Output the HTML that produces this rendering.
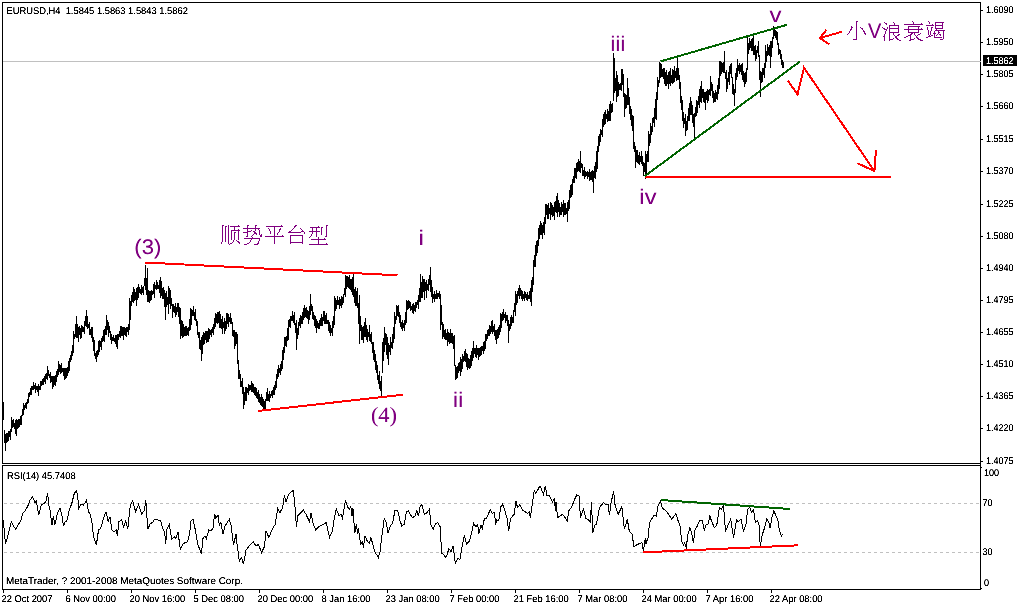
<!DOCTYPE html>
<html><head><meta charset="utf-8"><title>EURUSD,H4</title>
<style>html,body{margin:0;padding:0;background:#fff;overflow:hidden}svg{display:block}text{font-family:"Liberation Sans", sans-serif;}</style>
</head><body>
<svg width="1018" height="606" viewBox="0 0 1018 606">
<rect width="1018" height="606" fill="#fff"/>
<defs><filter id="cr" x="0" y="0" width="1018" height="606" filterUnits="userSpaceOnUse" color-interpolation-filters="sRGB"><feComponentTransfer><feFuncA type="linear" slope="2" intercept="-0.25"/></feComponentTransfer></filter><filter id="gs" x="0" y="0" width="1018" height="606" filterUnits="userSpaceOnUse" color-interpolation-filters="sRGB"><feComponentTransfer><feFuncA type="linear" slope="1.15" intercept="0"/></feComponentTransfer></filter></defs>
<g shape-rendering="crispEdges" fill="none">
<path d="M3 503.5H980M3 552.5H980" stroke="#c0c0c0" stroke-width="1" stroke-dasharray="3 3" stroke-dashoffset="-1"/>
<path d="M2 2.5H981M2.5 2V464M2 463.5H981M2 465.5H981M2.5 465V590M2 589.5H981M980.5 2V590M981 10.5H983M981 42.5H983M981 74.5H983M981 106.5H983M981 139.5H983M981 171.5H983M981 204.5H983M981 236.5H983M981 268.5H983M981 300.5H983M981 332.5H983M981 364.5H983M981 396.5H983M981 428.5H983M981 461.5H983M981 467.5H982M981 588.5H982M3.5 590V593M67.5 590V593M131.5 590V593M195.5 590V593M259.5 590V593M323.5 590V593M387.5 590V593M451.5 590V593M515.5 590V593M579.5 590V593M643.5 590V593M707.5 590V593M771.5 590V593" stroke="#000" stroke-width="1"/>
<path d="M3 61.5H981" stroke="#c0c0c0" stroke-width="1"/>
<path d="M3.5 402V420M4.5 430V443M5.5 434V451M6.5 433V443M7.5 433V442M8.5 431V441M9.5 431V437M10.5 429V440M11.5 417V432M12.5 420V428M13.5 419V427M14.5 423V429M15.5 420V434M16.5 419V436M17.5 420V429M18.5 419V428M19.5 419V427M20.5 416V425M21.5 415V425M22.5 409V416M23.5 403V415M24.5 405V410M25.5 403V408M26.5 402V409M27.5 399V404M28.5 393V403M29.5 392V397M30.5 388V395M31.5 386V395M32.5 386V390M33.5 382V390M34.5 385V389M35.5 383V393M36.5 386V390M37.5 386V392M38.5 384V396M39.5 386V390M40.5 381V390M41.5 381V386M42.5 379V385M43.5 378V385M44.5 376V382M45.5 374V384M46.5 373V379M47.5 366V380M48.5 370V376M49.5 374V378M50.5 372V383M51.5 376V382M52.5 376V389M53.5 376V387M54.5 376V385M55.5 375V386M56.5 371V382M57.5 369V377M58.5 361V375M59.5 364V372M60.5 365V374M61.5 363V373M62.5 368V372M63.5 368V376M64.5 368V380M65.5 368V379M66.5 368V378M67.5 367V376M68.5 361V373M69.5 358V371M70.5 355V362M71.5 351V360M72.5 345V356M73.5 331V353M74.5 334V339M75.5 324V337M76.5 316V338M77.5 324V338M78.5 327V342M79.5 326V335M80.5 328V339M81.5 325V338M82.5 326V332M83.5 327V332M84.5 321V334M85.5 316V326M86.5 310V327M87.5 316V329M88.5 324V328M89.5 322V335M90.5 329V335M91.5 327V338M92.5 327V342M93.5 337V351M94.5 340V356M95.5 353V359M96.5 351V362M97.5 350V357M98.5 341V355M99.5 340V352M100.5 341V347M101.5 338V350M102.5 336V342M103.5 330V341M104.5 329V342M105.5 326V335M106.5 315V335M107.5 320V330M108.5 322V337M109.5 326V333M110.5 331V340M111.5 334V344M112.5 337V341M113.5 335V341M114.5 338V342M115.5 335V344M116.5 335V347M117.5 334V349M118.5 334V340M119.5 331V337M120.5 326V338M121.5 326V336M122.5 327V336M123.5 327V340M124.5 327V335M125.5 328V336M126.5 327V337M127.5 327V332M128.5 324V335M129.5 298V330M130.5 301V320M131.5 295V306M132.5 292V302M133.5 287V303M134.5 289V301M135.5 292V300M136.5 288V306M137.5 287V300M138.5 284V298M139.5 287V293M140.5 289V294M141.5 285V295M142.5 287V293M143.5 286V295M144.5 278V286M145.5 265V290M146.5 278V295M147.5 268V302M148.5 290V302M149.5 291V303M150.5 291V301M151.5 290V300M152.5 291V295M153.5 284V294M154.5 282V298M155.5 285V289M156.5 280V290M157.5 282V289M158.5 285V289M159.5 280V293M160.5 277V298M161.5 281V296M162.5 288V299M163.5 287V299M164.5 290V307M165.5 293V320M166.5 291V307M167.5 297V305M168.5 286V314M169.5 288V304M170.5 290V309M171.5 298V306M172.5 304V318M173.5 304V312M174.5 306V313M175.5 303V317M176.5 307V315M177.5 303V312M178.5 303V317M179.5 307V324M180.5 308V339M181.5 320V336M182.5 321V338M183.5 324V337M184.5 327V336M185.5 326V336M186.5 326V336M187.5 328V335M188.5 327V336M189.5 319V331M190.5 308V330M191.5 309V325M192.5 310V316M193.5 306V316M194.5 312V320M195.5 309V321M196.5 319V326M197.5 321V335M198.5 332V338M199.5 332V349M200.5 340V350M201.5 337V361M202.5 335V354M203.5 332V345M204.5 333V344M205.5 331V340M206.5 331V343M207.5 331V342M208.5 328V342M209.5 329V339M210.5 330V335M211.5 329V337M212.5 327V333M213.5 324V335M214.5 318V329M215.5 313V327M216.5 314V323M217.5 312V324M218.5 312V323M219.5 311V328M220.5 314V328M221.5 319V329M222.5 316V334M223.5 322V328M224.5 318V334M225.5 321V331M226.5 313V329M227.5 313V324M228.5 314V327M229.5 317V322M230.5 313V324M231.5 318V324M232.5 322V336M233.5 330V337M234.5 330V349M235.5 332V346M236.5 332V344M237.5 334V364M238.5 360V379M239.5 370V379M240.5 374V387M241.5 381V387M242.5 378V394M243.5 387V409M244.5 392V405M245.5 387V401M246.5 387V401M247.5 388V393M248.5 384V395M249.5 385V391M250.5 385V390M251.5 381V392M252.5 383V392M253.5 384V393M254.5 387V395M255.5 387V396M256.5 388V398M257.5 392V399M258.5 390V402M259.5 394V403M260.5 397V405M261.5 394V406M262.5 397V407M263.5 399V410M264.5 401V409M265.5 399V409M266.5 392V401M267.5 388V401M268.5 394V401M269.5 391V402M270.5 394V398M271.5 391V396M272.5 390V398M273.5 387V395M274.5 385V395M275.5 381V390M276.5 374V388M277.5 369V379M278.5 365V377M279.5 368V373M280.5 364V375M281.5 361V371M282.5 350V369M283.5 347V360M284.5 337V353M285.5 337V346M286.5 336V347M287.5 328V341M288.5 320V340M289.5 319V327M290.5 316V328M291.5 316V321M292.5 311V321M293.5 315V323M294.5 312V325M295.5 323V333M296.5 320V350M297.5 328V339M298.5 322V335M299.5 318V326M300.5 315V328M301.5 316V324M302.5 312V324M303.5 308V320M304.5 305V318M305.5 308V317M306.5 307V318M307.5 310V319M308.5 311V324M309.5 306V320M310.5 294V315M311.5 304V311M312.5 306V319M313.5 312V320M314.5 315V326M315.5 316V328M316.5 319V333M317.5 321V328M318.5 323V329M319.5 320V329M320.5 318V326M321.5 314V326M322.5 317V326M323.5 311V321M324.5 311V324M325.5 315V324M326.5 313V324M327.5 320V324M328.5 320V331M329.5 322V333M330.5 325V336M331.5 328V333M332.5 321V336M333.5 316V328M334.5 296V325M335.5 298V311M336.5 300V309M337.5 296V305M338.5 300V305M339.5 297V309M340.5 299V306M341.5 296V308M342.5 297V305M343.5 294V303M344.5 288V295M345.5 275V297M346.5 276V289M347.5 276V287M348.5 277V288M349.5 275V289M350.5 279V290M351.5 279V292M352.5 277V295M353.5 274V297M354.5 289V303M355.5 287V306M356.5 291V306M357.5 288V308M358.5 303V324M359.5 295V344M360.5 316V331M361.5 325V340M362.5 327V340M363.5 326V343M364.5 322V337M365.5 318V337M366.5 325V340M367.5 329V342M368.5 332V337M369.5 325V341M370.5 334V342M371.5 332V344M372.5 342V353M373.5 342V360M374.5 350V362M375.5 354V370M376.5 361V373M377.5 365V380M378.5 375V384M379.5 371V389M380.5 381V391M381.5 376V397M382.5 342V373M383.5 338V361M384.5 327V352M385.5 333V345M386.5 334V355M387.5 337V359M388.5 343V365M389.5 345V352M390.5 337V355M391.5 342V348M392.5 334V349M393.5 327V343M394.5 312V339M395.5 316V324M396.5 305V320M397.5 306V316M398.5 305V317M399.5 312V323M400.5 315V327M401.5 322V329M402.5 320V331M403.5 323V328M404.5 320V331M405.5 312V325M406.5 300V323M407.5 301V310M408.5 300V309M409.5 301V308M410.5 302V311M411.5 306V310M412.5 304V313M413.5 303V314M414.5 305V311M415.5 302V312M416.5 302V308M417.5 300V305M418.5 295V309M419.5 288V302M420.5 274V302M421.5 282V298M422.5 276V298M423.5 279V292M424.5 279V300M425.5 282V291M426.5 280V298M427.5 284V290M428.5 279V291M429.5 275V285M430.5 267V292M431.5 280V297M432.5 287V303M433.5 294V299M434.5 291V302M435.5 294V299M436.5 290V299M437.5 293V299M438.5 293V297M439.5 291V299M440.5 294V330M441.5 305V325M442.5 322V339M443.5 324V337M444.5 330V339M445.5 329V340M446.5 333V340M447.5 329V346M448.5 332V342M449.5 333V344M450.5 329V343M451.5 333V343M452.5 333V344M453.5 336V349M454.5 335V366M455.5 365V380M456.5 367V379M457.5 366V378M458.5 363V373M459.5 362V371M460.5 357V376M461.5 359V372M462.5 354V369M463.5 356V362M464.5 351V361M465.5 349V362M466.5 353V367M467.5 354V370M468.5 358V368M469.5 359V369M470.5 355V368M471.5 351V366M472.5 348V361M473.5 341V358M474.5 348V354M475.5 348V357M476.5 345V358M477.5 348V355M478.5 348V360M479.5 348V357M480.5 347V356M481.5 346V355M482.5 346V351M483.5 342V354M484.5 341V351M485.5 334V349M486.5 334V341M487.5 330V339M488.5 329V336M489.5 325V336M490.5 326V334M491.5 321V332M492.5 320V334M493.5 326V332M494.5 324V336M495.5 330V340M496.5 330V344M497.5 329V339M498.5 327V338M499.5 325V335M500.5 313V332M501.5 314V328M502.5 312V321M503.5 309V320M504.5 314V318M505.5 312V323M506.5 315V321M507.5 315V326M508.5 320V343M509.5 324V331M510.5 317V329M511.5 315V326M512.5 317V323M513.5 310V323M514.5 303V312M515.5 291V316M516.5 294V305M517.5 291V303M518.5 288V296M519.5 285V299M520.5 288V296M521.5 290V299M522.5 291V301M523.5 294V299M524.5 291V301M525.5 292V298M526.5 294V300M527.5 292V301M528.5 295V299M529.5 291V299M530.5 288V302M531.5 280V306M532.5 277V292M533.5 260V285M534.5 255V267M535.5 245V267M536.5 241V256M537.5 240V253M538.5 228V246M539.5 225V239M540.5 221V235M541.5 223V235M542.5 225V239M543.5 222V233M544.5 217V235M545.5 204V224M546.5 204V215M547.5 205V219M548.5 203V219M549.5 208V214M550.5 202V220M551.5 203V215M552.5 205V217M553.5 207V216M554.5 202V220M555.5 201V212M556.5 196V213M557.5 193V217M558.5 200V212M559.5 203V217M560.5 207V215M561.5 202V215M562.5 204V212M563.5 200V217M564.5 203V215M565.5 203V215M566.5 208V214M567.5 202V222M568.5 200V211M569.5 190V209M570.5 185V198M571.5 184V197M572.5 179V195M573.5 176V183M574.5 168V183M575.5 168V178M576.5 163V179M577.5 162V172M578.5 159V171M579.5 161V172M580.5 151V173M581.5 163V168M582.5 164V176M583.5 170V176M584.5 167V179M585.5 171V177M586.5 172V176M587.5 171V179M588.5 172V177M589.5 169V181M590.5 172V180M591.5 171V180M592.5 170V182M593.5 171V193M594.5 166V178M595.5 162V179M596.5 151V172M597.5 146V169M598.5 136V152M599.5 134V146M600.5 129V142M601.5 130V135M602.5 119V137M603.5 114V127M604.5 112V125M605.5 110V124M606.5 114V119M607.5 109V122M608.5 111V121M609.5 104V121M610.5 101V121M611.5 104V113M612.5 103V112M613.5 53V101M614.5 58V93M615.5 78V91M616.5 71V102M617.5 75V97M618.5 82V96M619.5 84V90M620.5 83V90M621.5 69V91M622.5 69V85M623.5 74V97M624.5 93V117M625.5 94V109M626.5 95V108M627.5 78V105M628.5 88V105M629.5 97V114M630.5 106V120M631.5 109V126M632.5 115V131M633.5 116V149M634.5 142V152M635.5 146V168M636.5 150V162M637.5 150V163M638.5 155V164M639.5 152V165M640.5 156V162M641.5 151V164M642.5 156V166M643.5 162V176M644.5 163V172M645.5 151V179M646.5 154V174M647.5 151V162M648.5 131V162M649.5 134V146M650.5 123V143M651.5 126V135M652.5 118V132M653.5 117V123M654.5 108V127M655.5 99V119M656.5 92V120M657.5 77V100M658.5 80V87M659.5 62V83M660.5 63V78M661.5 64V77M662.5 69V77M663.5 68V79M664.5 68V84M665.5 72V86M666.5 70V86M667.5 75V84M668.5 72V89M669.5 71V84M670.5 68V86M671.5 75V83M672.5 69V84M673.5 70V83M674.5 66V82M675.5 71V78M676.5 68V81M677.5 55V80M678.5 68V80M679.5 75V89M680.5 82V103M681.5 96V110M682.5 100V121M683.5 112V128M684.5 118V124M685.5 114V136M686.5 121V131M687.5 116V130M688.5 108V121M689.5 103V121M690.5 97V115M691.5 101V115M692.5 105V123M693.5 114V127M694.5 113V140M695.5 107V117M696.5 100V116M697.5 101V113M698.5 96V105M699.5 89V108M700.5 86V102M701.5 81V103M702.5 89V98M703.5 89V102M704.5 92V103M705.5 92V110M706.5 91V100M707.5 89V103M708.5 90V101M709.5 89V95M710.5 76V96M711.5 82V91M712.5 84V98M713.5 91V103M714.5 93V102M715.5 90V102M716.5 92V99M717.5 85V100M718.5 78V94M719.5 61V89M720.5 61V76M721.5 62V74M722.5 63V72M723.5 62V73M724.5 51V73M725.5 72V79M726.5 70V92M727.5 78V89M728.5 72V82M729.5 66V85M730.5 64V74M731.5 63V78M732.5 77V94M733.5 84V95M734.5 89V106M735.5 73V93M736.5 68V80M737.5 59V77M738.5 65V71M739.5 63V74M740.5 65V72M741.5 64V75M742.5 63V80M743.5 71V82M744.5 73V87M745.5 72V84M746.5 68V82M747.5 37V70M748.5 43V54M749.5 38V50M750.5 41V48M751.5 39V51M752.5 38V51M753.5 35V55M754.5 46V55M755.5 45V61M756.5 50V59M757.5 46V53M758.5 41V57M759.5 55V80M760.5 71V97M761.5 72V83M762.5 68V82M763.5 68V75M764.5 63V78M765.5 45V68M766.5 51V62M767.5 44V56M768.5 47V55M769.5 45V56M770.5 41V68M771.5 41V57M772.5 37V48M773.5 26V39M774.5 28V36M775.5 30V38M776.5 31V40M777.5 32V45M778.5 43V55M779.5 49V54M780.5 50V59M781.5 54V65M782.5 60V68M783.5 62V68" stroke="#000" stroke-width="1"/>
<path d="M3.3 520.0 L5.5 544.3 L8.4 533.4 L11.4 521.8 L13.4 525.9 L15.9 529.3 L18.4 524.3 L20.9 520.9 L22.5 513.4 L25.0 510.9 L27.6 506.7 L30.0 500.0 L32.6 496.7 L35.0 502.5 L36.4 500.9 L38.7 515.0 L41.4 505.0 L44.3 503.4 L45.9 501.7 L47.6 493.4 L48.8 505.0 L50.0 510.0 L52.0 525.0 L53.4 515.9 L54.8 525.0 L57.6 512.6 L60.0 508.4 L61.8 514.2 L63.5 525.9 L65.0 521.8 L66.8 520.9 L69.3 510.0 L71.8 503.4 L74.3 493.4 L76.5 490.4 L77.7 496.7 L78.8 508.4 L81.0 504.2 L83.5 505.0 L86.5 500.4 L88.5 511.7 L90.2 514.2 L91.9 521.8 L93.5 536.8 L96.4 545.0 L98.5 530.0 L100.7 528.4 L103.5 518.4 L106.0 511.7 L108.2 521.8 L109.9 516.7 L111.9 530.0 L114.4 531.8 L116.4 530.0 L117.4 535.9 L118.9 521.8 L121.6 519.2 L123.6 526.8 L125.6 520.9 L127.8 529.3 L130.3 505.0 L132.8 500.9 L135.6 511.7 L138.6 504.2 L141.6 514.2 L144.5 510.0 L145.8 499.7 L147.8 529.3 L150.3 523.4 L152.8 522.6 L154.5 519.2 L157.8 520.0 L160.3 520.0 L162.8 528.4 L164.5 531.8 L165.8 543.5 L166.7 530.0 L169.2 524.3 L171.7 539.3 L174.2 536.8 L175.9 538.5 L178.0 531.8 L180.4 550.0 L182.5 544.3 L185.0 542.6 L187.5 541.8 L189.7 533.4 L190.9 520.9 L193.0 519.2 L195.0 528.4 L197.6 543.5 L201.4 554.3 L203.0 538.5 L205.0 535.9 L206.4 538.5 L208.8 530.0 L210.9 531.0 L213.0 528.4 L214.6 514.2 L215.9 518.4 L218.0 515.0 L219.3 525.0 L220.9 522.6 L223.0 534.3 L225.0 525.9 L226.8 523.4 L229.3 519.2 L231.0 525.0 L233.5 545.0 L236.0 534.3 L237.0 543.5 L239.3 561.0 L241.5 557.7 L243.5 564.3 L246.0 550.0 L248.5 546.8 L250.5 544.3 L253.2 541.8 L256.0 546.0 L258.5 544.3 L261.5 552.6 L264.4 546.8 L266.0 531.0 L268.9 537.6 L271.9 530.0 L275.2 524.3 L277.7 508.4 L279.9 512.6 L282.7 507.6 L284.4 495.0 L286.0 501.7 L288.6 494.2 L293.3 490.4 L294.9 505.0 L296.4 526.8 L297.8 515.9 L300.3 513.4 L303.3 510.0 L306.0 514.2 L309.5 521.8 L311.0 512.6 L312.8 522.6 L315.8 530.0 L318.6 526.8 L322.0 525.0 L326.2 522.6 L329.5 537.6 L332.0 531.8 L332.5 531.0 L334.2 518.4 L336.3 509.2 L339.2 515.9 L340.9 514.2 L342.5 518.4 L345.4 500.4 L347.5 506.7 L349.2 509.2 L350.9 506.7 L352.0 515.9 L353.0 508.4 L354.7 533.4 L356.4 524.3 L357.6 534.3 L358.4 528.4 L360.6 544.3 L362.6 541.8 L363.4 547.6 L365.0 536.0 L367.6 541.8 L369.2 543.5 L370.9 537.6 L373.0 545.0 L375.4 553.5 L376.8 554.3 L378.4 557.7 L380.0 551.8 L382.0 535.0 L384.3 518.4 L386.4 522.6 L388.0 533.4 L390.5 525.9 L392.6 523.4 L395.0 510.0 L397.6 510.0 L399.8 520.0 L401.8 525.9 L404.3 524.3 L406.5 511.7 L408.5 510.9 L410.0 514.2 L412.7 517.6 L415.0 515.9 L416.8 510.9 L418.5 515.9 L420.0 506.7 L421.9 504.2 L424.4 514.2 L427.2 512.6 L429.4 509.2 L431.0 525.0 L433.2 529.3 L435.2 524.3 L437.7 522.6 L440.2 526.8 L441.6 553.5 L443.6 554.3 L445.2 557.7 L446.9 555.2 L448.9 548.5 L451.0 551.8 L453.2 546.0 L455.3 563.5 L457.8 558.5 L460.0 559.3 L462.0 546.8 L464.4 535.0 L466.6 544.3 L469.4 541.0 L471.6 532.6 L473.6 523.4 L476.0 526.8 L477.8 524.3 L478.6 534.3 L481.0 525.0 L482.3 528.4 L484.5 518.4 L486.0 519.2 L490.3 509.7 L492.3 513.4 L494.5 512.6 L495.7 525.0 L496.7 520.0 L498.7 520.9 L500.8 506.7 L502.5 504.2 L505.0 510.9 L507.0 518.4 L508.7 531.0 L510.4 519.2 L512.5 515.9 L514.2 514.2 L515.9 500.9 L517.5 507.6 L519.7 505.0 L522.6 510.0 L525.0 511.7 L527.6 513.4 L529.2 511.7 L530.4 517.6 L532.6 501.7 L534.2 490.9 L535.9 493.4 L540.0 485.8 L543.4 494.2 L545.4 485.8 L547.0 495.9 L549.3 495.9 L552.6 501.7 L554.3 499.2 L555.5 510.9 L556.0 501.7 L557.6 517.6 L560.0 515.9 L562.6 514.2 L565.0 517.6 L567.3 520.9 L568.8 510.9 L571.8 506.7 L574.3 500.0 L576.8 495.0 L579.0 495.9 L580.5 517.6 L583.5 509.2 L586.0 518.4 L588.5 520.0 L590.2 521.8 L591.5 502.5 L592.7 532.6 L594.9 525.0 L596.5 524.3 L599.4 507.6 L603.5 502.5 L606.0 505.0 L608.2 504.2 L609.4 515.0 L611.0 503.4 L613.6 490.9 L614.9 504.2 L618.2 514.2 L621.9 506.7 L624.4 529.3 L627.3 519.2 L629.4 531.8 L631.9 533.4 L634.0 546.8 L636.6 545.0 L639.5 543.5 L642.0 542.6 L643.3 551.0 L645.3 538.5 L646.0 543.5 L648.3 536.8 L649.5 522.6 L652.0 518.4 L654.2 515.0 L656.3 515.9 L658.0 505.9 L660.4 500.9 L662.5 508.4 L665.0 510.0 L667.5 512.6 L669.7 515.9 L671.7 519.2 L674.2 515.9 L675.9 513.4 L678.4 521.8 L680.0 525.9 L681.7 541.8 L683.4 545.0 L684.7 542.6 L686.4 548.5 L687.6 535.0 L690.0 527.6 L691.7 533.4 L693.4 542.6 L695.0 530.0 L697.3 525.9 L699.8 520.0 L702.0 520.0 L704.3 530.0 L706.0 525.0 L708.0 524.3 L709.8 515.9 L711.8 521.8 L714.3 527.6 L716.8 525.0 L719.3 507.6 L721.5 509.2 L723.5 505.0 L725.5 531.8 L727.7 525.9 L730.7 519.2 L733.5 537.6 L736.5 520.0 L738.5 521.8 L741.0 519.2 L743.5 531.0 L746.0 524.3 L747.7 509.2 L749.9 507.6 L751.5 512.6 L753.5 510.0 L755.5 522.6 L757.7 520.9 L759.4 525.9 L760.2 546.8 L762.2 535.0 L764.4 528.4 L766.9 518.4 L768.9 522.6 L770.2 528.4 L771.9 517.6 L773.9 510.9 L776.0 515.9 L777.8 519.2 L779.4 531.0 L781.6 536.0 L782.4 534.3" stroke="#000" stroke-width="1" stroke-linejoin="miter"/>
<g stroke-width="2" stroke-linecap="butt">
<path d="M145 262.5L397.5 275.3M258 411L403 394.7M644.5 176.6H891" stroke="#ff0000"/>
<path d="M643 552.4L798 545.3" stroke="#ff0000"/>
<path d="M660.5 61.4L787 24.8M644.7 176.2L800.2 61.3" stroke="#006400"/>
<path d="M660.8 500L790 509" stroke="#006400"/>
<path d="M787.8 80.5L797.5 94.5L804 67.7L874.4 171.1M857.3 163.2L874.4 171.1L876 149.7" stroke="#ff0000" stroke-linejoin="miter"/>
<path d="M841.7 31.8L820 38M826.5 29.6L820 38L829.2 44.2" stroke="#ff0000"/>
</g>
<rect x="983" y="55" width="34" height="11" fill="#000"/>
</g>
<g filter="url(#cr)" text-rendering="geometricPrecision">
<text transform="translate(6.4 14) scale(0.955 1)" font-size="9.8" fill="#000" xml:space="preserve">EURUSD,H4&#160; 1.5845 1.5863 1.5843 1.5862</text>
<text transform="translate(7 479) scale(0.955 1)" font-size="9.8" fill="#000">RSI(14) 45.7408</text>
<text transform="translate(6 584) scale(1.011 1)" font-size="9.8" fill="#000">MetaTrader, ? 2001-2008 MetaQuotes Software Corp.</text>
<text transform="translate(986 13) scale(0.92 1)" font-size="9.8" fill="#000">1.6090</text>
<text transform="translate(986 45) scale(0.92 1)" font-size="9.8" fill="#000">1.5950</text>
<text transform="translate(986 77) scale(0.92 1)" font-size="9.8" fill="#000">1.5805</text>
<text transform="translate(986 109) scale(0.92 1)" font-size="9.8" fill="#000">1.5660</text>
<text transform="translate(986 142) scale(0.92 1)" font-size="9.8" fill="#000">1.5515</text>
<text transform="translate(986 174) scale(0.92 1)" font-size="9.8" fill="#000">1.5370</text>
<text transform="translate(986 207) scale(0.92 1)" font-size="9.8" fill="#000">1.5225</text>
<text transform="translate(986 239) scale(0.92 1)" font-size="9.8" fill="#000">1.5080</text>
<text transform="translate(986 271) scale(0.92 1)" font-size="9.8" fill="#000">1.4940</text>
<text transform="translate(986 303) scale(0.92 1)" font-size="9.8" fill="#000">1.4795</text>
<text transform="translate(986 335) scale(0.92 1)" font-size="9.8" fill="#000">1.4655</text>
<text transform="translate(986 367) scale(0.92 1)" font-size="9.8" fill="#000">1.4510</text>
<text transform="translate(986 399) scale(0.92 1)" font-size="9.8" fill="#000">1.4365</text>
<text transform="translate(986 431) scale(0.92 1)" font-size="9.8" fill="#000">1.4220</text>
<text transform="translate(986 464) scale(0.92 1)" font-size="9.8" fill="#000">1.4075</text>
<text transform="translate(986 64) scale(0.92 1)" font-size="9.8" fill="#fff">1.5862</text>
<text transform="translate(984 476) scale(0.92 1)" font-size="9.8" fill="#000">100</text>
<text transform="translate(982.5 506) scale(0.92 1)" font-size="9.8" fill="#000">70</text>
<text transform="translate(982.5 555) scale(0.92 1)" font-size="9.8" fill="#000">30</text>
<text transform="translate(984 586) scale(0.92 1)" font-size="9.8" fill="#000">0</text>
<text transform="translate(1.5 602) scale(0.955 1)" font-size="9.8" fill="#000">22 Oct 2007</text>
<text transform="translate(65.5 602) scale(0.955 1)" font-size="9.8" fill="#000">6 Nov 00:00</text>
<text transform="translate(129.5 602) scale(0.955 1)" font-size="9.8" fill="#000">20 Nov 16:00</text>
<text transform="translate(193.5 602) scale(0.955 1)" font-size="9.8" fill="#000">5 Dec 08:00</text>
<text transform="translate(257.5 602) scale(0.955 1)" font-size="9.8" fill="#000">20 Dec 00:00</text>
<text transform="translate(321.5 602) scale(0.955 1)" font-size="9.8" fill="#000">8 Jan 16:00</text>
<text transform="translate(385.5 602) scale(0.955 1)" font-size="9.8" fill="#000">23 Jan 08:00</text>
<text transform="translate(449.5 602) scale(0.955 1)" font-size="9.8" fill="#000">7 Feb 00:00</text>
<text transform="translate(513.5 602) scale(0.955 1)" font-size="9.8" fill="#000">21 Feb 16:00</text>
<text transform="translate(577.5 602) scale(0.955 1)" font-size="9.8" fill="#000">7 Mar 08:00</text>
<text transform="translate(641.5 602) scale(0.955 1)" font-size="9.8" fill="#000">24 Mar 00:00</text>
<text transform="translate(705.5 602) scale(0.955 1)" font-size="9.8" fill="#000">7 Apr 16:00</text>
<text transform="translate(769.5 602) scale(0.955 1)" font-size="9.8" fill="#000">22 Apr 08:00</text>
</g>
<g filter="url(#gs)" text-rendering="geometricPrecision">
<text transform="translate(134.3 254) scale(1.04 1)" font-size="21.2" fill="#800080">(3)</text>
<text transform="translate(418.6 245) scale(1.15 1)" font-size="21.2" fill="#800080">i</text>
<text transform="translate(453.1 407) scale(1.05 1)" font-size="21.2" fill="#800080" letter-spacing="0.25">ii</text>
<text x="610.4" y="51" font-size="21.2" fill="#800080" letter-spacing="0.3">iii</text>
<text transform="translate(639.2 204.2) scale(1.11 1)" font-size="21.2" fill="#800080" letter-spacing="0.3">iv</text>
<text transform="translate(769.5 22.1) scale(1.13 1)" font-size="21.2" fill="#800080">v</text>
<text transform="translate(370.9 421.5) scale(1.035 1)" font-size="21.7" fill="#800080" style='font-family:"Liberation Serif", serif'>(4)</text>
<text transform="translate(867.9 38) scale(0.94 1)" font-size="21.2" fill="#800080">V</text>
</g>
<g stroke="#800080" stroke-width="1" fill="none" shape-rendering="crispEdges">
<g role="img" aria-label="顺势平台型"><title>顺势平台型</title><path d="M222 225.5h2M228 225.5h1M238 225.5h1M222 226.5h1M225 226.5h2M228 226.5h1M230 226.5h10M222 227.5h1M225 227.5h1M228 227.5h1M234 227.5h1M222 228.5h1M225 228.5h1M228 228.5h1M234 228.5h1M222 229.5h1M225 229.5h1M228 229.5h1M234 229.5h1M238 229.5h1M222 230.5h1M225 230.5h1M228 230.5h1M231 230.5h9M222 231.5h1M225 231.5h1M228 231.5h1M231 231.5h1M238 231.5h1M222 232.5h1M225 232.5h1M228 232.5h1M231 232.5h1M234 232.5h2M238 232.5h1M222 233.5h1M225 233.5h1M228 233.5h1M231 233.5h1M234 233.5h1M238 233.5h1M222 234.5h1M225 234.5h1M228 234.5h1M231 234.5h1M234 234.5h1M238 234.5h1M222 235.5h1M225 235.5h1M228 235.5h1M231 235.5h1M234 235.5h1M238 235.5h1M222 236.5h1M225 236.5h1M228 236.5h1M231 236.5h1M234 236.5h1M238 236.5h1M222 237.5h1M225 237.5h1M228 237.5h1M231 237.5h1M234 237.5h1M238 237.5h1M222 238.5h1M225 238.5h1M228 238.5h1M231 238.5h1M234 238.5h1M238 238.5h1M222 239.5h1M225 239.5h1M228 239.5h1M231 239.5h1M234 239.5h1M238 239.5h1M222 240.5h1M225 240.5h1M228 240.5h1M233 240.5h1M236 240.5h1M222 241.5h1M225 241.5h1M228 241.5h1M233 241.5h1M237 241.5h2M221 242.5h1M228 242.5h1M232 242.5h1M238 242.5h2M221 243.5h1M228 243.5h1M230 243.5h2M239 243.5h1M229 244.5h1M247 225.5h2M255 225.5h2M247 226.5h1M255 226.5h1M247 227.5h1M255 227.5h1M243 228.5h17M247 229.5h1M255 229.5h1M258 229.5h1M247 230.5h1M251 230.5h1M255 230.5h1M259 230.5h1M247 231.5h4M253 231.5h2M259 231.5h1M243 232.5h5M254 232.5h2M259 232.5h1M247 233.5h1M254 233.5h3M259 233.5h1M247 234.5h1M253 234.5h1M256 234.5h1M259 234.5h1M261 234.5h1M247 235.5h1M252 235.5h1M260 235.5h2M246 236.5h2M251 236.5h1M260 236.5h2M252 237.5h1M244 238.5h16M251 239.5h1M259 239.5h1M250 240.5h1M259 240.5h1M250 241.5h1M258 241.5h1M249 242.5h1M258 242.5h1M247 243.5h2M257 243.5h2M244 244.5h3M254 244.5h4M281 225.5h1M266 226.5h17M274 227.5h1M268 228.5h1M274 228.5h1M280 228.5h1M269 229.5h1M274 229.5h1M279 229.5h2M269 230.5h1M274 230.5h1M279 230.5h1M270 231.5h1M274 231.5h1M279 231.5h1M270 232.5h1M274 232.5h1M278 232.5h1M270 233.5h1M274 233.5h1M277 233.5h1M274 234.5h1M277 234.5h1M274 235.5h1M282 235.5h1M265 236.5h19M274 237.5h1M274 238.5h1M274 239.5h1M274 240.5h1M274 241.5h1M274 242.5h1M274 243.5h1M295 225.5h2M294 226.5h2M294 227.5h1M293 228.5h1M300 228.5h1M292 229.5h1M301 229.5h1M291 230.5h1M302 230.5h1M289 231.5h2M301 231.5h3M288 232.5h13M304 232.5h1M304 233.5h1M290 235.5h13M290 236.5h1M302 236.5h1M290 237.5h1M302 237.5h1M290 238.5h1M302 238.5h1M290 239.5h1M302 239.5h1M290 240.5h1M302 240.5h1M290 241.5h1M302 241.5h1M290 242.5h13M290 243.5h1M302 243.5h1M326 225.5h2M318 226.5h1M326 226.5h1M310 227.5h10M321 227.5h2M326 227.5h1M312 228.5h1M316 228.5h1M321 228.5h1M326 228.5h1M312 229.5h1M316 229.5h1M321 229.5h1M326 229.5h1M312 230.5h1M316 230.5h1M321 230.5h1M326 230.5h1M309 231.5h11M321 231.5h1M326 231.5h1M312 232.5h1M316 232.5h1M321 232.5h1M326 232.5h1M312 233.5h1M316 233.5h1M321 233.5h1M326 233.5h1M311 234.5h1M316 234.5h1M321 234.5h1M326 234.5h1M311 235.5h1M316 235.5h1M326 235.5h1M310 236.5h1M316 236.5h1M325 236.5h2M309 237.5h1M318 237.5h1M318 238.5h1M324 238.5h1M311 239.5h15M318 240.5h1M318 241.5h1M318 242.5h1M318 243.5h1M326 243.5h1M309 244.5h19"/></g>
<g role="img" aria-label="小V浪衰竭"><title>小V浪衰竭</title><path d="M856 21.5h2M856 22.5h1M856 23.5h1M856 24.5h1M856 25.5h1M851 26.5h1M856 26.5h1M851 27.5h2M856 27.5h1M860 27.5h1M851 28.5h1M856 28.5h1M861 28.5h2M850 29.5h2M856 29.5h1M862 29.5h1M850 30.5h1M856 30.5h1M863 30.5h1M849 31.5h1M856 31.5h1M863 31.5h2M849 32.5h1M856 32.5h1M864 32.5h1M848 33.5h1M856 33.5h1M864 33.5h2M847 34.5h1M856 34.5h1M865 34.5h1M856 35.5h1M856 36.5h1M856 37.5h1M856 38.5h1M853 39.5h4M884 22.5h1M893 22.5h1M885 23.5h2M894 23.5h1M886 24.5h1M894 24.5h1M889 25.5h10M889 26.5h1M898 26.5h1M882 27.5h1M887 27.5h1M889 27.5h1M898 27.5h1M883 28.5h2M887 28.5h1M889 28.5h10M884 29.5h3M889 29.5h1M898 29.5h1M886 30.5h1M889 30.5h1M898 30.5h1M885 31.5h1M889 31.5h1M898 31.5h1M885 32.5h1M889 32.5h10M885 33.5h1M889 33.5h1M893 33.5h1M884 34.5h1M889 34.5h1M893 34.5h1M898 34.5h2M884 35.5h1M889 35.5h1M894 35.5h1M897 35.5h2M883 36.5h2M889 36.5h1M895 36.5h2M884 37.5h1M889 37.5h1M895 37.5h2M884 38.5h1M889 38.5h1M893 38.5h1M896 38.5h2M884 39.5h1M889 39.5h4M897 39.5h2M884 40.5h1M889 40.5h1M899 40.5h2M912 21.5h1M913 22.5h1M913 23.5h1M921 23.5h1M904 24.5h19M908 26.5h12M908 27.5h1M918 27.5h1M908 28.5h1M918 28.5h1M921 28.5h1M904 29.5h19M908 30.5h1M918 30.5h1M908 31.5h1M918 31.5h1M908 32.5h11M911 33.5h2M914 33.5h1M920 33.5h1M910 34.5h2M914 34.5h1M918 34.5h2M908 35.5h3M915 35.5h1M917 35.5h1M906 36.5h2M910 36.5h1M916 36.5h1M904 37.5h2M910 37.5h1M916 37.5h2M910 38.5h1M914 38.5h1M917 38.5h2M910 39.5h4M918 39.5h3M909 40.5h2M920 40.5h3M928 21.5h1M929 22.5h1M935 22.5h9M929 23.5h1M935 23.5h1M942 23.5h1M932 24.5h1M935 24.5h1M942 24.5h1M926 25.5h8M935 25.5h8M935 26.5h1M942 26.5h1M927 27.5h1M931 27.5h2M935 27.5h1M942 27.5h1M927 28.5h1M931 28.5h1M935 28.5h8M927 29.5h1M931 29.5h1M936 29.5h1M928 30.5h1M931 30.5h1M935 30.5h10M928 31.5h1M930 31.5h1M934 31.5h1M938 31.5h1M943 31.5h1M928 32.5h1M930 32.5h1M934 32.5h1M938 32.5h2M943 32.5h1M928 33.5h1M930 33.5h1M933 33.5h3M938 33.5h1M943 33.5h1M928 34.5h1M930 34.5h1M934 34.5h1M937 34.5h1M939 34.5h2M943 34.5h1M929 35.5h1M931 35.5h2M934 35.5h1M936 35.5h1M940 35.5h1M943 35.5h1M928 36.5h3M934 36.5h1M943 36.5h1M926 37.5h2M934 37.5h8M943 37.5h1M943 38.5h1M940 39.5h3"/></g>
</g>
</svg></body></html>
